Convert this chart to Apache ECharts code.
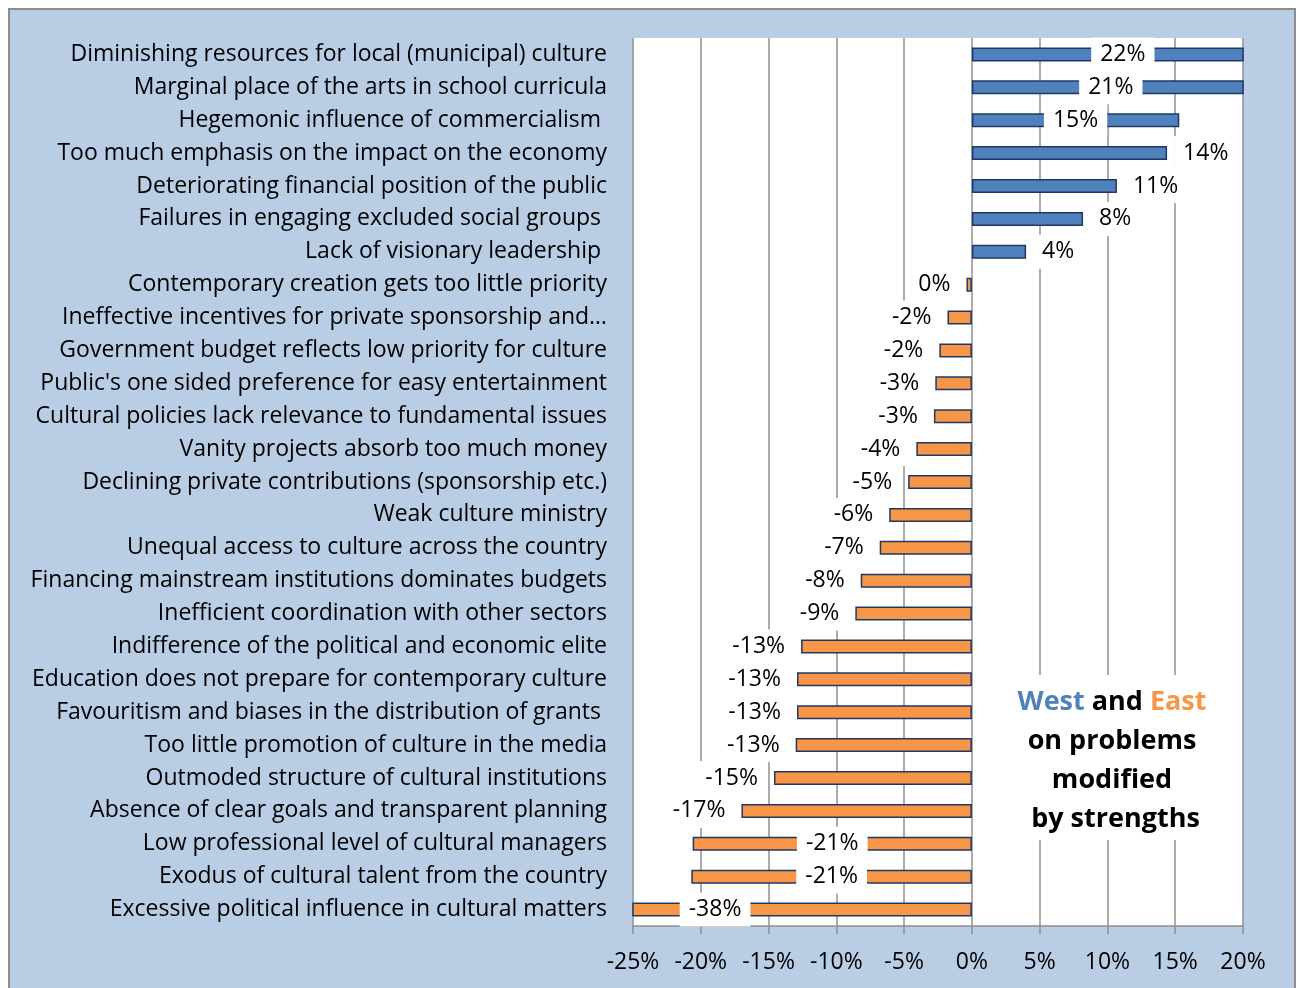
<!DOCTYPE html>
<html>
<head>
<meta charset="utf-8">
<script src="https://cdn.jsdelivr.net/npm/echarts@6/dist/echarts.min.js"></script>
<style>
  html, body { margin: 0; padding: 0; background: #fff; }
  #main { width: 1298px; height: 988px; }
</style>
</head>
<body>
<div id="main"></div>
<script>
// problems, top to bottom
var categories = [
  'Diminishing resources for local (municipal) culture',
  'Marginal place of the arts in school curricula',
  'Hegemonic influence of commercialism ',
  'Too much emphasis on the impact on the economy',
  'Deteriorating financial position of the public',
  'Failures in engaging excluded social groups ',
  'Lack of visionary leadership ',
  'Contemporary creation gets too little priority',
  'Ineffective incentives for private sponsorship and\u2026',
  'Government budget reflects low priority for culture',
  "Public's one sided preference for easy entertainment",
  'Cultural policies lack relevance to fundamental issues',
  'Vanity projects absorb too much money',
  'Declining private contributions (sponsorship etc.)',
  'Weak culture ministry',
  'Unequal access to culture across the country',
  'Financing mainstream institutions dominates budgets',
  'Inefficient coordination with other sectors',
  'Indifference of the political and economic elite',
  'Education does not prepare for contemporary culture',
  'Favouritism and biases in the distribution of grants ',
  'Too little promotion of culture in the media',
  'Outmoded structure of cultural institutions',
  'Absence of clear goals and transparent planning',
  'Low professional level of cultural managers',
  'Exodus of cultural talent from the country',
  'Excessive political influence in cultural matters'
];

// West minus East, in percent
var values = [22, 21, 15.3, 14.4, 10.7, 8.2, 4.0, -0.4, -1.8, -2.4, -2.7, -2.8, -4.1,
  -4.7, -6.1, -6.8, -8.2, -8.6, -12.6, -12.9, -12.9, -13.0, -14.6, -17.0, -20.6, -20.7, -38];

// labels that Excel moved inside the bar: index -> x offset
var insideLabels = { 0: 15, 1: 3, 2: 0, 24: 0, 25: 0, 26: -87 };

var xTicks = { min: -25, max: 20, step: 5 };

var WEST = '#4f81bd', EAST = '#f79646', EDGE = '#1f3864', GRID = '#8f8f8f';
var FONT = 'Open Sans';

var barData = values.map(function (v, i) {
  var lab;
  if (insideLabels.hasOwnProperty(i)) {
    lab = { position: 'inside', offset: [insideLabels[i], 0] };
  } else {
    lab = { position: v >= 0 ? 'right' : 'left', distance: 7 };
  }
  return {
    value: v,
    itemStyle: { color: v >= 0 ? WEST : EAST },
    label: lab
  };
});

var chart = echarts.init(document.getElementById('main'));
chart.setOption({
  backgroundColor: '#fff',
  animation: false,
  textStyle: { fontFamily: FONT },
  grid: {
    left: 633, right: 55, top: 38, bottom: 62,
    show: true, backgroundColor: '#fff', borderWidth: 0
  },
  graphic: [
    {
      type: 'rect', z: -10, silent: true,
      shape: { x: 9, y: 9, width: 1286, height: 1000 },
      style: { fill: '#b9cde5', stroke: '#8c8c8c', lineWidth: 2 }
    },
    {
      type: 'rect', z: 10, silent: true,
      shape: { x: 1013, y: 675, width: 200, height: 165 },
      style: { fill: '#fff' }
    },
    {
      type: 'text', z: 11, silent: true,
      x: 1112, y: 683,
      style: {
        text: '{w|West} and {e|East}\non problems\nmodified\n by strengths',
        align: 'center',
        verticalAlign: 'top',
        fontFamily: FONT,
        fontSize: 27,
        fontWeight: 'bold',
        lineHeight: 39,
        fill: '#000',
        rich: {
          w: { fill: WEST, fontSize: 27, fontWeight: 'bold', fontFamily: FONT, lineHeight: 39 },
          e: { fill: EAST, fontSize: 27, fontWeight: 'bold', fontFamily: FONT, lineHeight: 39 }
        }
      }
    }
  ],
  xAxis: {
    type: 'value',
    min: xTicks.min, max: xTicks.max, interval: xTicks.step,
    position: 'bottom',
    axisLine: { show: true, onZero: false, lineStyle: { color: GRID, width: 1.5 } },
    axisTick: { show: true, length: 8, lineStyle: { color: GRID, width: 1.5 } },
    splitLine: { show: true, lineStyle: { color: GRID, width: 1.5 } },
    axisLabel: {
      formatter: '{value}%', color: '#000', fontSize: 23, fontFamily: FONT, margin: 25
    }
  },
  yAxis: {
    type: 'category',
    inverse: true,
    data: categories,
    axisLine: { show: false },
    axisTick: { show: false },
    splitLine: { show: false },
    axisLabel: {
      color: '#000', fontSize: 23, fontFamily: FONT, margin: 26, interval: 0,
      padding: [8, 0, 0, 0]
    }
  },
  series: [{
    type: 'bar',
    data: barData,
    barWidth: 14,
    clip: true,
    itemStyle: { borderColor: EDGE, borderWidth: 1.5 },
    label: {
      show: true,
      color: '#000',
      fontSize: 23,
      lineHeight: 26,
      fontFamily: FONT,
      backgroundColor: '#fff',
      padding: [8, 9, 0, 9],
      formatter: function (p) { return Math.round(p.value) + '%'; }
    },
    z: 3
  }]
});
</script>
</body>
</html>
